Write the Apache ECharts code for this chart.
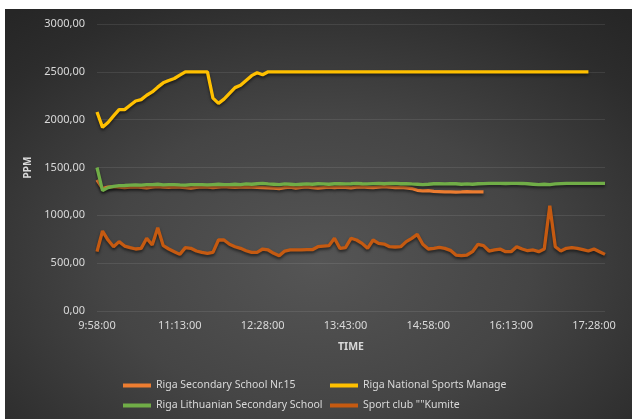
<!DOCTYPE html>
<html>
<head>
<meta charset="utf-8">
<script src="https://cdn.jsdelivr.net/npm/echarts@6/dist/echarts.min.js"></script>
<style>
html,body{margin:0;padding:0;background:#ffffff;width:632px;height:419px;overflow:hidden;}
#chart{position:absolute;left:5px;top:9px;width:627px;height:410px;
background:radial-gradient(ellipse 75% 80% at 50% 62%, #555555 0%, #454545 45%, #2c2c2c 85%, #262626 100%);}
</style>
</head>
<body>
<div id="chart"></div>
<script>
var categories = [
"9:58:00","10:03:00","10:08:00","10:13:00","10:18:00","10:23:00","10:28:00","10:33:00","10:38:00","10:43:00",
"10:48:00","10:53:00","10:58:00","11:03:00","11:08:00","11:13:00","11:18:00","11:23:00","11:28:00","11:33:00",
"11:38:00","11:43:00","11:48:00","11:53:00","11:58:00","12:03:00","12:08:00","12:13:00","12:18:00","12:23:00",
"12:28:00","12:33:00","12:38:00","12:43:00","12:48:00","12:53:00","12:58:00","13:03:00","13:08:00","13:13:00",
"13:18:00","13:23:00","13:28:00","13:33:00","13:38:00","13:43:00","13:48:00","13:53:00","13:58:00","14:03:00",
"14:08:00","14:13:00","14:18:00","14:23:00","14:28:00","14:33:00","14:38:00","14:43:00","14:48:00","14:53:00",
"14:58:00","15:03:00","15:08:00","15:13:00","15:18:00","15:23:00","15:28:00","15:33:00","15:38:00","15:43:00",
"15:48:00","15:53:00","15:58:00","16:03:00","16:08:00","16:13:00","16:18:00","16:23:00","16:28:00","16:33:00",
"16:38:00","16:43:00","16:48:00","16:53:00","16:58:00","17:03:00","17:08:00","17:13:00","17:18:00","17:23:00",
"17:28:00","17:33:00","17:38:00"
];

var seriesNames = ["Riga Secondary School Nr.15","Riga National Sports Manage","Riga Lithuanian Secondary School","Sport club \"\"Kumite"];

var school15 = [
1370,1280,1295,1300,1295,1290,1295,1298,1292,1288,
1295,1300,1295,1292,1298,1295,1290,1285,1293,1298,
1295,1290,1295,1300,1296,1292,1295,1298,1295,1292,
1290,1288,1285,1280,1290,1295,1285,1292,1298,1290,
1285,1290,1295,1290,1296,1292,1288,1295,1298,1292,
1290,1295,1300,1295,1290,1293,1288,1280,1262,1255,
1258,1250,1248,1245,1245,1243,1245,1248,1245,1245,
1245
];

var nationalSports = [
2080,1920,1970,2040,2105,2105,2150,2195,2210,2255,
2290,2340,2385,2410,2430,2465,2500,2500,2500,2500,
2500,2225,2170,2215,2275,2335,2360,2410,2460,2490,
2470,2500,2500,2500,2500,2500,2500,2500,2500,2500,
2500,2500,2500,2500,2500,2500,2500,2500,2500,2500,
2500,2500,2500,2500,2500,2500,2500,2500,2500,2500,
2500,2500,2500,2500,2500,2500,2500,2500,2500,2500,
2500,2500,2500,2500,2500,2500,2500,2500,2500,2500,
2500,2500,2500,2500,2500,2500,2500,2500,2500,2500
];

var lithuanian = [
1500,1258,1290,1303,1310,1312,1315,1318,1316,1320,
1322,1325,1318,1320,1322,1318,1315,1320,1322,1320,
1318,1322,1325,1320,1322,1325,1322,1328,1325,1330,
1335,1328,1325,1322,1328,1325,1320,1325,1328,1325,
1330,1328,1325,1330,1332,1328,1330,1335,1330,1328,
1332,1335,1330,1333,1335,1330,1332,1328,1325,1322,
1325,1330,1332,1328,1332,1330,1325,1328,1325,1330,
1332,1335,1335,1335,1333,1335,1335,1333,1330,1325,
1320,1325,1320,1328,1332,1335,1335,1335,1335,1335,
1335,1335,1335
];

var kumite = [
620,836,742,672,725,679,662,648,655,760,
690,871,683,648,620,592,662,655,627,613,
603,613,742,742,697,672,655,630,613,613,
648,638,603,578,627,638,638,638,641,641,
672,679,683,760,655,662,760,742,707,655,
742,707,700,672,669,672,725,760,801,697,
648,655,665,655,634,585,578,585,620,697,
683,627,638,648,620,620,672,648,630,638,
620,648,1100,672,627,655,662,655,641,627,
648,620,592
];

var colors = ["#ED7D31","#FFC000","#70AD47","#C55A11"];
var dataSets = [school15, nationalSports, lithuanian, kumite];

var FONT = "Noto Sans";
var TXT = "#d9d9d9";

var chart = echarts.init(document.getElementById('chart'), null, {renderer:'canvas'});

var series = seriesNames.map(function(n, i){
  return {
    name: n,
    type: 'line',
    data: dataSets[i],
    symbol: 'none',
    smooth: false,
    color: colors[i],
    lineStyle: {
      width: 3.3,
      color: colors[i],
      shadowColor: 'rgba(0,0,0,0.55)',
      shadowBlur: 3,
      shadowOffsetY: 2
    },
    emphasis: {disabled: true},
    animation: false
  };
});

function legendCfg(names, left){
  return {
    data: names,
    orient: 'vertical',
    left: left, top: 366,
    itemWidth: 28, itemHeight: 4, itemGap: 9,
    icon: 'rect',
    selectedMode: false,
    textStyle: {color: TXT, fontSize: 10.5, fontFamily: FONT}
  };
}

chart.setOption({
  backgroundColor: 'transparent',
  animation: false,
  textStyle: {fontFamily: FONT},
  grid: {left: 92, right: 27, top: 15, bottom: 108, containLabel: false},
  legend: [
    legendCfg([seriesNames[0], seriesNames[2]], 113),
    legendCfg([seriesNames[1], seriesNames[3]], 320)
  ],
  xAxis: {
    type: 'category',
    data: categories,
    boundaryGap: false,
    name: 'TIME',
    nameLocation: 'middle',
    nameGap: 31,
    nameTextStyle: {color: TXT, fontSize: 10.5, fontWeight: 'bold', fontFamily: FONT},
    axisLine: {show: false},
    axisTick: {show: false},
    axisLabel: {color: TXT, fontSize: 11, interval: 14, margin: 9, fontFamily: FONT},
    splitLine: {show: false}
  },
  yAxis: {
    type: 'value',
    min: 0, max: 3000, interval: 500,
    name: 'PPM',
    nameLocation: 'middle',
    nameGap: 58,
    nameRotate: 90,
    nameTextStyle: {color: TXT, fontSize: 10, fontWeight: 'bold', fontFamily: FONT},
    axisLine: {show: false},
    axisTick: {show: false},
    axisLabel: {
      color: TXT, fontSize: 11, margin: 12, fontFamily: FONT,
      formatter: function(v){ return v.toFixed(2).replace('.', ','); }
    },
    splitLine: {show: true, lineStyle: {color: 'rgba(255,255,255,0.09)', width: 1}}
  },
  series: series
});
</script>
</body>
</html>
